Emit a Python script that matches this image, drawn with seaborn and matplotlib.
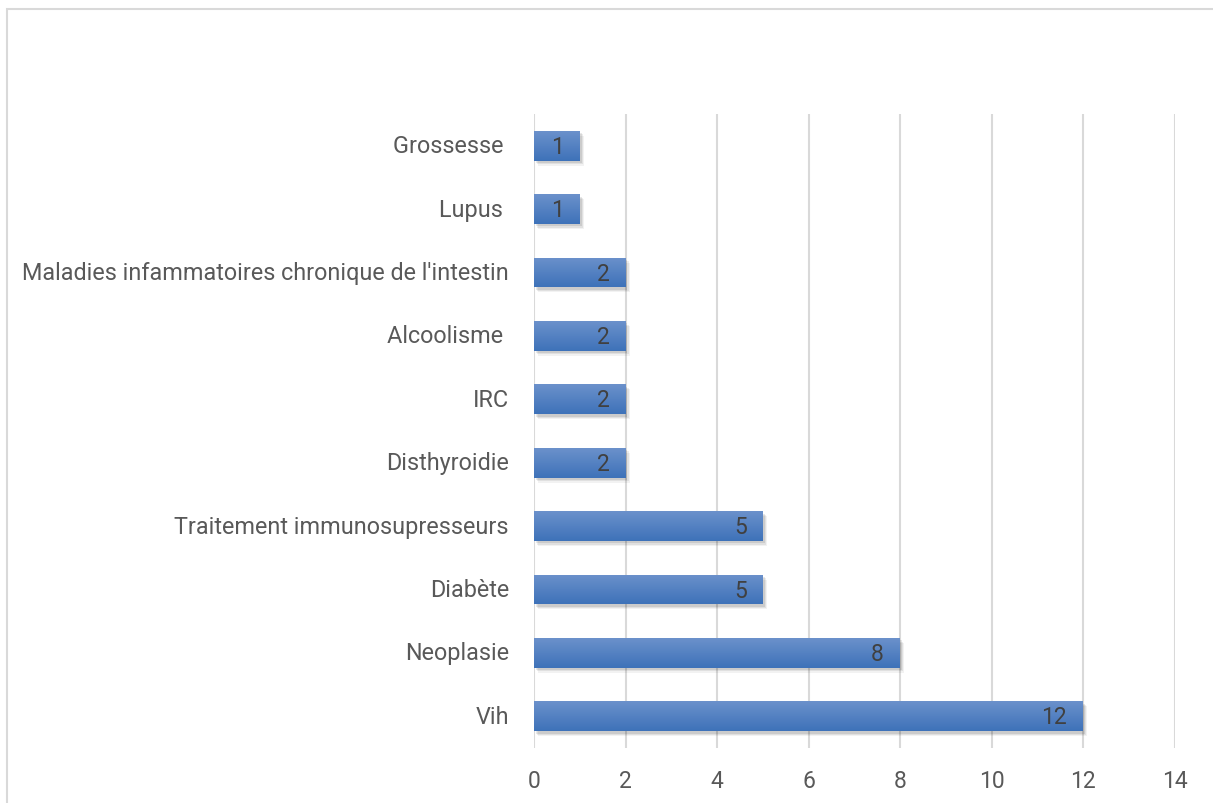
import matplotlib
matplotlib.use("Agg")
import matplotlib.pyplot as plt
import matplotlib.patheffects as pe
from matplotlib.patches import Rectangle
import numpy as np
import pandas as pd
import seaborn as sns

categories = [
    "Grossesse ",
    "Lupus ",
    "Maladies infammatoires chronique de l'intestin",
    "Alcoolisme ",
    "IRC",
    "Disthyroidie",
    "Traitement immunosupresseurs",
    "Diabète",
    "Neoplasie",
    "Vih",
]
counts = [1, 1, 2, 2, 2, 2, 5, 5, 8, 12]
x_ticks = [0, 2, 4, 6, 8, 10, 12, 14]

df = pd.DataFrame({"categorie": categories, "effectif": counts})

sns.set_theme(style="white")
plt.rcParams["font.family"] = ["Roboto", "DejaVu Sans"]

W, H = 1213, 804
fig = plt.figure(figsize=(W / 100, H / 100), dpi=100)
ax = fig.add_axes([534 / W, 1 - 749 / H, (1174.5 - 534) / W, (749 - 115) / H])

sns.barplot(data=df, y="categorie", x="effectif", orient="h", color="#4a7bbf",
            width=0.47, ax=ax, zorder=3, saturation=1)

# gradient fill and soft drop shadow on each bar
grad = np.linspace(0, 1, 64).reshape(-1, 1)
top = np.array([0x6b, 0x91, 0xcb]) / 255
bot = np.array([0x3e, 0x72, 0xb9]) / 255
cimg = top[None, None, :] * (1 - grad[:, :, None]) + bot[None, None, :] * grad[:, :, None]
shadow = [pe.SimplePatchShadow(offset=(o, -o * 1.2), shadow_rgbFace="#000000", alpha=a)
          for o, a in [(3.0, 0.05), (2.2, 0.07), (1.4, 0.09)]]
for p in ax.patches:
    p.set_edgecolor("none")
    p.set_path_effects(shadow + [pe.Normal()])
    x0, y0 = p.get_x(), p.get_y()
    w, h = p.get_width(), p.get_height()
    im = ax.imshow(cimg, extent=[x0, x0 + w, y0 + h, y0], aspect="auto", zorder=4,
                   interpolation="bilinear")
    im.set_clip_path(p)

# value labels inside the bar ends
for p, v in zip(ax.patches, counts):
    ax.annotate(str(v), (p.get_x() + p.get_width(), p.get_y() + p.get_height() / 2),
                xytext=(-11.5, -0.5), textcoords="offset points", ha="right", va="center",
                fontsize=16.5, color="#404040", zorder=6)

ax.set_xlim(0, 14)
ax.set_ylim(len(categories) - 0.5, -0.5)
ax.set_xticks(x_ticks)
ax.set_xticklabels([str(t) for t in x_ticks])
ax.xaxis.grid(True, color="#d9d9d9", linewidth=1.5, zorder=0)
ax.yaxis.grid(False)
for s in ax.spines.values():
    s.set_visible(False)
ax.set_xlabel("")
ax.set_ylabel("")
ax.tick_params(axis="x", length=0, pad=15, labelsize=16.5, labelcolor="#595959")
ax.tick_params(axis="y", length=0, pad=18, labelsize=16.8, labelcolor="#595959")
for lbl in ax.get_yticklabels():
    lbl.set_verticalalignment("center")

# chart area border
fig.patches.append(Rectangle((6.5 / W, -0.05), 1.1, 1 - 9.5 / H + 0.05,
                             transform=fig.transFigure, fill=False,
                             edgecolor="#d9d9d9", linewidth=1.5, zorder=0))

fig.savefig("out.png", dpi=100, facecolor="white")
